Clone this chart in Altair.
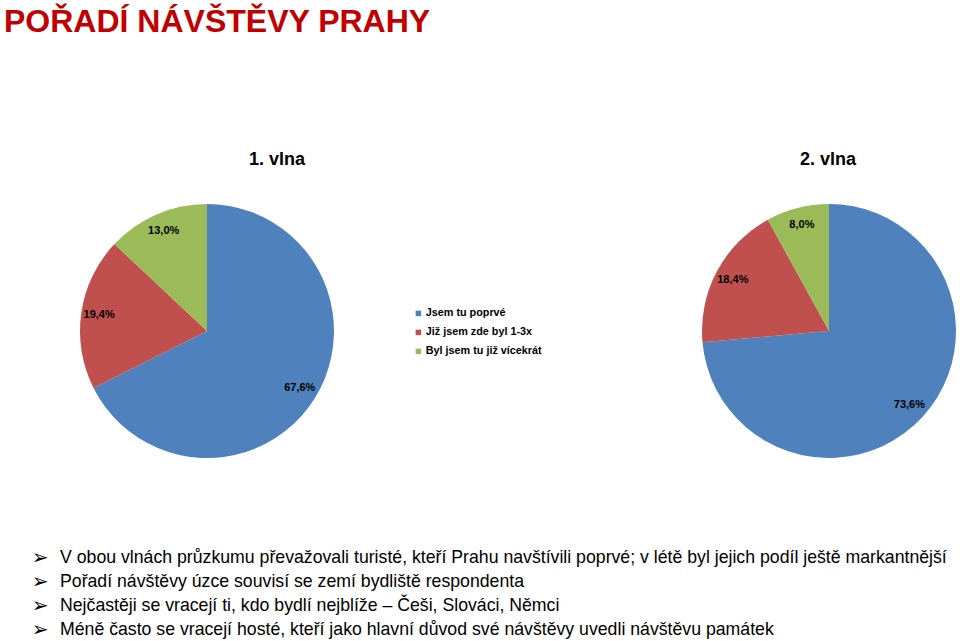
import altair as alt
import pandas as pd

# ---- data ----
categories = ["Jsem tu poprvé", "Již jsem zde byl 1-3x", "Byl jsem tu již vícekrát"]
colors = ["#4F81BD", "#C0504D", "#9BBB59"]
wave_titles = ["1. vlna", "2. vlna"]
wave1_values = [67.6, 19.4, 13.0]
wave2_values = [73.6, 18.4, 8.0]
main_title = "POŘADÍ NÁVŠTĚVY PRAHY"
bullets = [
    "V obou vlnách průzkumu převažovali turisté, kteří Prahu navštívili poprvé; v létě byl jejich podíl ještě markantnější",
    "Pořadí návštěvy úzce souvisí se zemí bydliště respondenta",
    "Nejčastěji se vracejí ti, kdo bydlí nejblíže – Češi, Slováci, Němci",
    "Méně často se vracejí hosté, kteří jako hlavní důvod své návštěvy uvedli návštěvu památek",
]

def fmt(v):
    return f"{v:.1f}".replace(".", ",") + "%"

rows = []
for w, vals in zip(wave_titles, [wave1_values, wave2_values]):
    for i, (c, v) in enumerate(zip(categories, vals)):
        rows.append({"wave": w, "cat": c, "value": v, "ord": i, "label": fmt(v)})
df = pd.DataFrame(rows)

FONT = "Liberation Sans"
color_scale = alt.Scale(domain=categories, range=colors)

centers = {"1. vlna": (207, 331), "2. vlna": (829, 331)}
title_x = {"1. vlna": 277, "2. vlna": 828}

layers = []
for idx, w in enumerate(wave_titles):
    cx, cy = centers[w]
    base = alt.Chart(df).transform_filter(alt.datum.wave == w)
    pie = base.mark_arc(radius=127).encode(
        theta=alt.Theta("value:Q", stack=True),
        order=alt.Order("ord:Q"),
        color=alt.Color(
            "cat:N",
            scale=color_scale,
            legend=alt.Legend(
                title=None,
                orient="none",
                legendX=413,
                legendY=308,
                symbolType="square",
                symbolSize=30,
                symbolStrokeWidth=0,
                labelFont=FONT,
                labelFontWeight="bold",
                labelFontSize=10.8,
                labelColor="#000000",
                rowPadding=7,
                labelOffset=2,
                padding=0,
            ) if idx == 0 else None,
        ),
        x=alt.value(cx),
        y=alt.value(cy),
    )
    labels = base.mark_text(
        radius=109, font=FONT, fontWeight="bold", fontSize=11, color="#000000"
    ).encode(
        theta=alt.Theta("value:Q", stack=True),
        order=alt.Order("ord:Q"),
        text="label:N",
        x=alt.value(cx),
        y=alt.value(cy),
    )
    layers += [pie, labels]

titles_df = pd.DataFrame({"t": wave_titles})
for w in wave_titles:
    layers.append(
        alt.Chart(titles_df).transform_filter(alt.datum.t == w).mark_text(
            font=FONT, fontWeight="bold", fontSize=18, color="#000000", baseline="middle"
        ).encode(text="t:N", x=alt.value(title_x[w]), y=alt.value(160))
    )

layers.append(
    alt.Chart(pd.DataFrame({"t": [main_title]})).mark_text(
        font=FONT, fontWeight="bold", fontSize=32, color="#C00000",
        align="left", baseline="alphabetic"
    ).encode(text="t:N", x=alt.value(4), y=alt.value(32))
)

bdf = pd.DataFrame({"i": list(range(len(bullets))), "t": bullets, "arrow": ["➢"] * len(bullets)})
yscale = alt.Scale(domain=[0, 3], range=[558, 630])
layers.append(
    alt.Chart(bdf).mark_text(
        font=FONT, fontSize=17.7, color="#000000", align="left", baseline="middle"
    ).encode(text="t:N", x=alt.value(60), y=alt.Y("i:Q", scale=yscale, axis=None))
)
layers.append(
    alt.Chart(bdf).mark_text(
        font="DejaVu Sans", fontSize=20, color="#000000", align="center", baseline="middle"
    ).encode(text="arrow:N", x=alt.value(40), y=alt.Y("i:Q", scale=yscale, axis=None))
)

chart = alt.layer(*layers).properties(
    width=960, height=641, padding=0,
    autosize=alt.AutoSizeParams(type="fit", contains="padding"),
    background="#FFFFFF",
).configure_view(strokeWidth=0)

chart.save("out.html", embed_options={"renderer": "svg", "actions": False})
